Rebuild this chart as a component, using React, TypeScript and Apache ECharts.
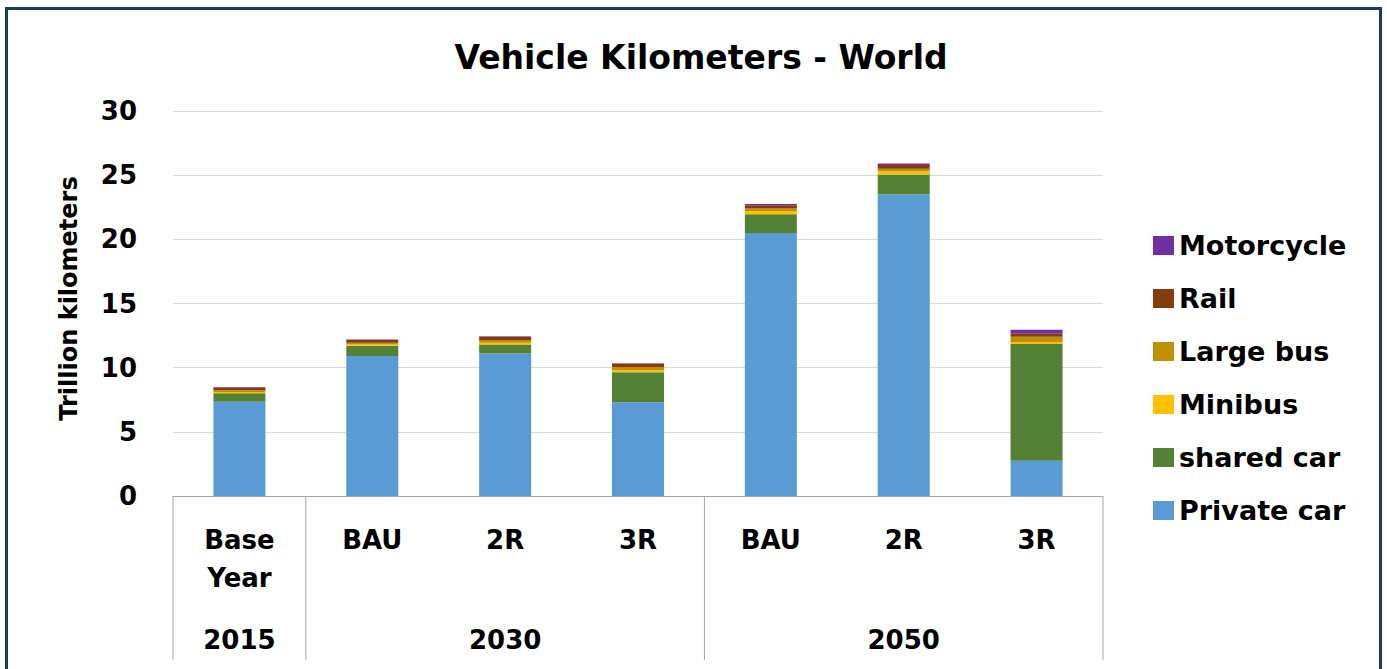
import React, { useEffect, useRef } from "react";
import * as echarts from "echarts";

const categories = ["Base\nYear", "BAU", "2R", "3R", "BAU", "2R", "3R"];
const groupLabels = ["2015", "", "2030", "", "", "2050", ""];
const yTicks = [0, 5, 10, 15, 20, 25, 30];

const privateCar = [7.35, 10.9, 11.1, 7.3, 20.5, 23.5, 2.75];
const sharedCar = [0.65, 0.8, 0.7, 2.35, 1.45, 1.55, 9.1];
const minibus = [0.1, 0.1, 0.15, 0.15, 0.25, 0.25, 0.15];
const largeBus = [0.15, 0.15, 0.2, 0.25, 0.2, 0.2, 0.4];
const rail = [0.2, 0.2, 0.25, 0.25, 0.25, 0.3, 0.25];
const motorcycle = [0.05, 0.05, 0.05, 0.05, 0.1, 0.1, 0.3];

const seriesNames = ["Private car", "shared car", "Minibus", "Large bus", "Rail", "Motorcycle"];
const seriesData = [privateCar, sharedCar, minibus, largeBus, rail, motorcycle];
const seriesColors = ["#5B9BD5", "#538135", "#FFC000", "#BF9000", "#843C0C", "#7030A0"];

const FONT = "DejaVu Sans";

export default function App() {
  const ref = useRef<HTMLDivElement>(null);
  useEffect(() => {
    if (!ref.current) return;
    const chart = echarts.init(ref.current, null, { renderer: "svg" });
    const gridLeft = 173;
    const gridRight = 1103;
    const gridTop = 111;
    const gridBottom = 496;
    const catW = (gridRight - gridLeft) / categories.length;
    const sepIdx = [0, 1, 4, 7];
    const sepLines = sepIdx.map((i) => ({
      type: "line",
      shape: { x1: gridLeft + i * catW, y1: gridBottom, x2: gridLeft + i * catW, y2: 660 },
      style: { stroke: "#A6A6A6", lineWidth: 1 },
      silent: true,
    }));
    const lbl = { fontFamily: FONT, fontWeight: "bold", fontSize: 26, color: "#000" };
    chart.setOption({
      animation: false,
      backgroundColor: "#ffffff",
      title: {
        text: "Vehicle Kilometers - World",
        left: 696,
        textAlign: "center",
        top: 36,
        textStyle: { fontFamily: FONT, fontWeight: "bold", fontSize: 33, color: "#000" },
      },
      legend: {
        orient: "vertical",
        left: 1148,
        top: 227,
        itemWidth: 21,
        itemHeight: 19,
        itemGap: 26,
        icon: "rect",
        data: ["Motorcycle", "Rail", "Large bus", "Minibus", "shared car", "Private car"],
        textStyle: { ...lbl, fontSize: 27, lineHeight: 27, padding: [0, 0, 0, 0] },
      },
      grid: { left: gridLeft, right: 1387 - gridRight, top: gridTop, bottom: 669 - gridBottom },
      xAxis: [
        {
          type: "category",
          data: categories,
          axisLine: { lineStyle: { color: "#A6A6A6" } },
          axisTick: { show: false },
          axisLabel: { ...lbl, lineHeight: 38, margin: 25, interval: 0 },
        },
        {
          type: "category",
          position: "bottom",
          data: groupLabels,
          axisLine: { show: false },
          axisTick: { show: false },
          axisLabel: { ...lbl, margin: 131, interval: 0 },
        },
      ],
      yAxis: {
        type: "value",
        min: yTicks[0],
        max: yTicks[yTicks.length - 1],
        interval: 5,
        name: "Trillion kilometers",
        nameLocation: "middle",
        nameGap: 92,
        nameTextStyle: { ...lbl, fontSize: 24, padding: [0, 0, 0, 10] },
        axisLine: { show: false },
        axisTick: { show: false },
        splitLine: { lineStyle: { color: "#D9D9D9", width: 1 } },
        axisLabel: { ...lbl, margin: 36 },
      },
      series: seriesNames.map((name, i) => ({
        name,
        type: "bar",
        stack: "total",
        barWidth: 52,
        xAxisIndex: 0,
        itemStyle: { color: seriesColors[i] },
        data: seriesData[i],
      })),
      graphic: [
        ...sepLines,
        {
          type: "rect",
          shape: { x: 6.5, y: 8.5, width: 1374, height: 700 },
          style: { fill: "none", stroke: "#1F3864", lineWidth: 3 },
          silent: true,
        },
      ],
    });
    return () => chart.dispose();
  }, []);
  return (
    <div
      ref={ref}
      style={{ position: "fixed", left: 0, top: 0, width: 1387, height: 669, background: "#fff" }}
    />
  );
}
